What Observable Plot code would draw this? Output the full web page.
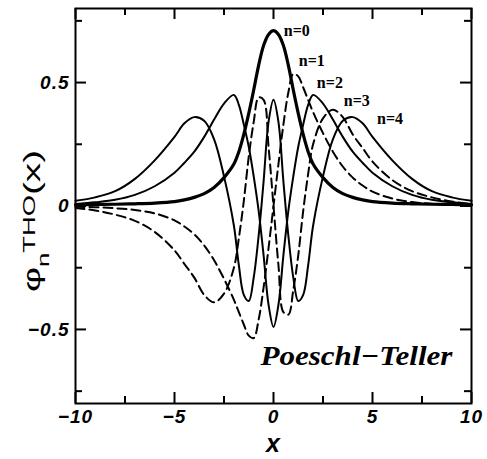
<!DOCTYPE html>
<html><head><meta charset="utf-8">
<script src="https://cdn.jsdelivr.net/npm/d3@7"></script>
<script src="https://cdn.jsdelivr.net/npm/@observablehq/plot@0.6"></script>
<style>html,body{margin:0;background:#fff}#chart svg{display:block}</style>
</head><body><div id="chart"></div>
<script>
// x grid (shared by all curves)
const xs = [-10,-9,-8,-7,-6,-5,-4.5,-4,-3.5,-3,-2.5,-2,-1.75,-1.5,-1.25,-1,-0.75,-0.5,-0.25,0,0.25,0.5,0.75,1,1.25,1.5,1.75,2,2.5,3,3.5,4,4.5,5,6,7,8,9,10];
// wavefunction values
const psi0 = [0.005,0.006,0.007,0.009,0.012,0.018,0.025,0.035,0.05,0.075,0.115,0.17,0.22,0.29,0.375,0.47,0.57,0.65,0.695,0.71,0.695,0.65,0.57,0.47,0.375,0.29,0.22,0.17,0.115,0.075,0.05,0.035,0.025,0.018,0.012,0.009,0.007,0.006,0.005];
const psi1 = [-0.003,-0.005,-0.009,-0.016,-0.03,-0.058,-0.083,-0.115,-0.16,-0.22,-0.295,-0.38,-0.43,-0.48,-0.525,-0.535,-0.46,-0.33,-0.17,0,0.17,0.33,0.46,0.535,0.525,0.48,0.43,0.38,0.295,0.22,0.16,0.115,0.083,0.058,0.03,0.016,0.009,0.005,0.003];
const psi2 = [0.008,0.015,0.025,0.045,0.08,0.135,0.175,0.22,0.28,0.35,0.415,0.45,0.41,0.33,0.24,0.12,-0.02,-0.2,-0.4,-0.49,-0.4,-0.2,-0.02,0.12,0.24,0.33,0.41,0.45,0.415,0.35,0.28,0.22,0.175,0.135,0.08,0.045,0.025,0.015,0.008];
const psi3 = [-0.008,-0.018,-0.035,-0.06,-0.105,-0.18,-0.235,-0.29,-0.36,-0.39,-0.355,-0.25,-0.13,0.02,0.2,0.34,0.44,0.43,0.24,0,-0.24,-0.43,-0.44,-0.34,-0.2,-0.02,0.13,0.25,0.355,0.39,0.36,0.29,0.235,0.18,0.105,0.06,0.035,0.018,0.008];
const psi4 = [0.021,0.035,0.06,0.11,0.185,0.28,0.335,0.36,0.345,0.27,0.12,-0.08,-0.24,-0.36,-0.385,-0.29,-0.12,0.1,0.34,0.43,0.34,0.1,-0.12,-0.29,-0.385,-0.36,-0.24,-0.08,0.12,0.27,0.345,0.36,0.335,0.28,0.185,0.11,0.06,0.035,0.021];

// curve labels and their anchor points (data units)
const curveLabels = ["n=0","n=1","n=2","n=3","n=4"];
const labelX = [0.52,1.28,2.19,3.55,5.23];
const labelY = [0.689,0.566,0.479,0.404,0.331];
const titleText = "Poeschl\u2212Teller";
const titleX = [-0.66];
const titleY = [-0.645];

// axes
const xDomain = [-10,10];
const yDomain = [-0.8,0.8];
const xMajor = [-10,-5,0,5,10];
const xMinor = [-7.5,-2.5,2.5,7.5];
const yMajor = [-0.5,0,0.5];
const yMinor = [-0.75,-0.25,0.25,0.75];

const W = 487, H = 459, mL = 75, mR = 16, mT = 8, mB = 56;
const iw = W - mL - mR, ih = H - mT - mB;

const toRows = (vals, n) => xs.map((x, i) => ({x, y: vals[i], n}));
const rows0 = toRows(psi0, 0), rows1 = toRows(psi1, 1), rows2 = toRows(psi2, 2), rows3 = toRows(psi3, 3), rows4 = toRows(psi4, 4);

const fmtX = d => d < 0 ? "\u2212" + (-d) : String(d);
const fmtY = d => d === 0 ? "0" : (d < 0 ? "\u2212" + (-d) : String(d));
const tickFont = {fontFamily: "Liberation Sans, Arial, sans-serif", fontWeight: "bold", fontStyle: "italic", fontSize: 19};

const lineOpts = {x: "x", y: "y", stroke: "black", curve: "catmull-rom"};

const plot = Plot.plot({
  width: W, height: H,
  marginLeft: mL, marginRight: mR, marginTop: mT, marginBottom: mB,
  x: {domain: xDomain},
  y: {domain: yDomain},
  style: {background: "white", overflow: "visible"},
  marks: [
    Plot.line(rows4, {...lineOpts, strokeWidth: 2}),
    Plot.line(rows3, {...lineOpts, strokeWidth: 2, strokeDasharray: "9,5"}),
    Plot.line(rows2, {...lineOpts, strokeWidth: 2}),
    Plot.line(rows1, {...lineOpts, strokeWidth: 2, strokeDasharray: "9,5"}),
    Plot.line(rows0, {...lineOpts, strokeWidth: 3.2}),
    // inward ticks
    Plot.tickX(xMajor, {x: d => d, insetTop: ih - 11, stroke: "black", strokeWidth: 2}),
    Plot.tickX(xMajor, {x: d => d, insetBottom: ih - 11, stroke: "black", strokeWidth: 2}),
    Plot.tickX(xMinor, {x: d => d, insetTop: ih - 7, stroke: "black", strokeWidth: 2}),
    Plot.tickX(xMinor, {x: d => d, insetBottom: ih - 7, stroke: "black", strokeWidth: 2}),
    Plot.tickY(yMajor, {y: d => d, insetRight: iw - 11, stroke: "black", strokeWidth: 2}),
    Plot.tickY(yMajor, {y: d => d, insetLeft: iw - 11, stroke: "black", strokeWidth: 2}),
    Plot.tickY(yMinor, {y: d => d, insetRight: iw - 7, stroke: "black", strokeWidth: 2}),
    Plot.tickY(yMinor, {y: d => d, insetLeft: iw - 7, stroke: "black", strokeWidth: 2}),
    Plot.frame({stroke: "black", strokeWidth: 2}),
    Plot.axisX(xMajor, {tickSize: 0, tickPadding: 6, tickFormat: fmtX, label: null, ...tickFont}),
    Plot.axisY(yMajor, {tickSize: 0, tickPadding: 6, tickFormat: fmtY, label: null, ...tickFont}),
    Plot.text(curveLabels, {x: (d, i) => labelX[i], y: (d, i) => labelY[i], text: d => d, textAnchor: "start", lineAnchor: "bottom",
      fontFamily: "Liberation Serif, Times New Roman, serif", fontWeight: "bold", fontSize: 16, fill: "black"}),
    Plot.text([titleText], {x: () => titleX[0], y: () => titleY[0], text: d => d, textAnchor: "start", lineAnchor: "bottom",
      fontFamily: "Liberation Serif, Times New Roman, serif", fontWeight: "bold", fontStyle: "italic", fontSize: 27, fill: "black"})
  ]
});
document.getElementById("chart").appendChild(plot);

const svg = d3.select(plot);
// tick label letter spacing
svg.selectAll("[aria-label^='x-axis tick label'] text, [aria-label^='y-axis tick label'] text").style("letter-spacing", "1px");
// stretch title
svg.selectAll("text").filter(function(){ return this.textContent === titleText; })
  .attr("textLength", 192).attr("lengthAdjust", "spacingAndGlyphs");

// x axis label
svg.append("text")
  .attr("x", mL + iw / 2).attr("y", 452)
  .attr("text-anchor", "middle")
  .attr("font-family", "Liberation Sans, Arial, sans-serif")
  .attr("font-weight", "bold").attr("font-style", "italic")
  .attr("font-size", 25)
  .text("x");

// y axis label  φ_n^THO(x)
const yl = svg.append("text")
  .attr("transform", "translate(40,221) rotate(-90)")
  .attr("text-anchor", "middle")
  .attr("font-family", "Liberation Sans, Arial, sans-serif")
  .attr("font-size", 24)
  .attr("textLength", 142).attr("lengthAdjust", "spacingAndGlyphs");
yl.append("tspan").text("\u03c6");
yl.append("tspan").attr("dy", 9).attr("font-size", 16).text("n");
yl.append("tspan").attr("dy", -14).attr("font-size", 17).text("THO");
yl.append("tspan").attr("dy", 5).text("(x)");
</script>
</body></html>
